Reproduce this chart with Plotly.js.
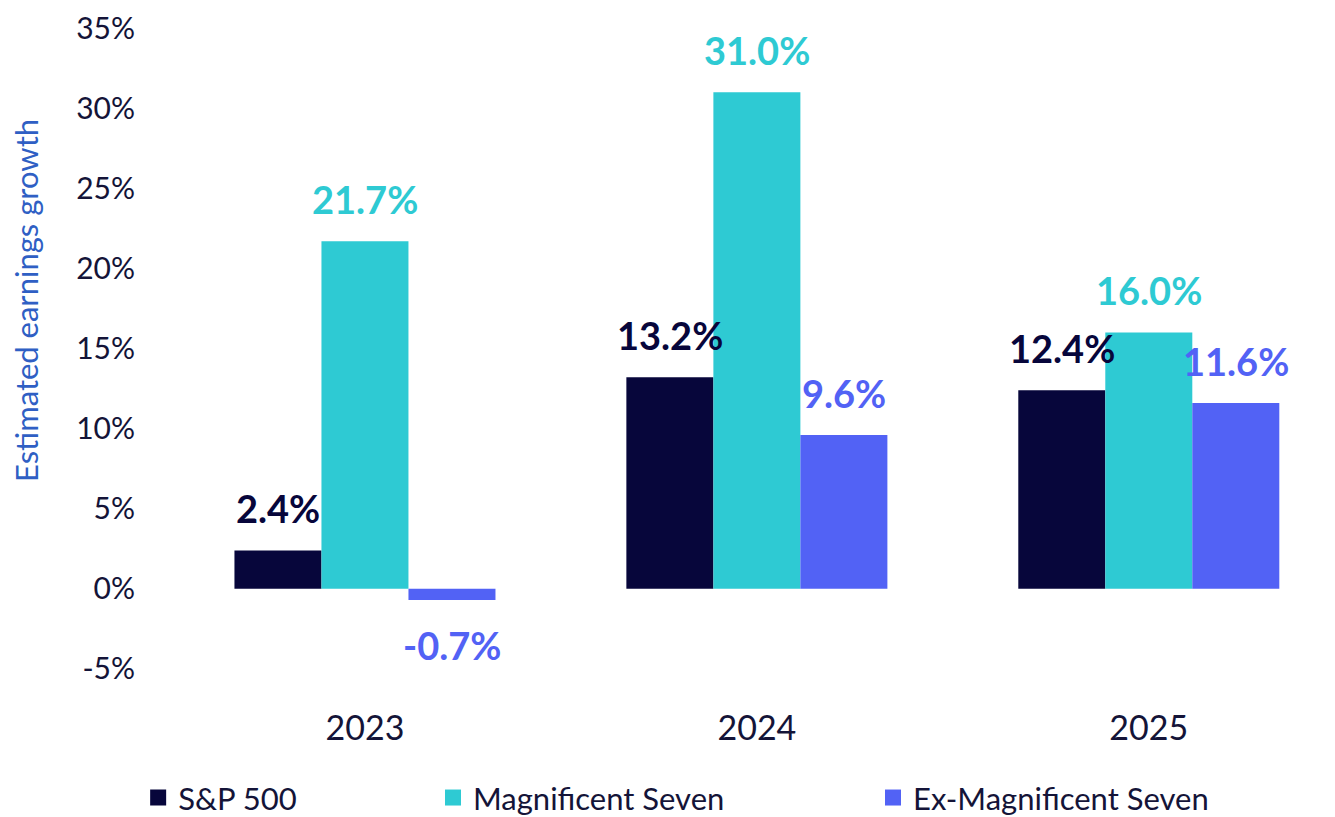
<!DOCTYPE html>
<html>
<head>
<meta charset="utf-8">
<script src="https://cdn.plot.ly/plotly-3.0.1.min.js"></script>
<style>html,body{margin:0;padding:0;background:#fff;}#chart{width:1335px;height:817px;}</style>
</head>
<body>
<div id="chart"></div>
<script>
const years = ['2023', '2024', '2025'];
const seriesNames = ['S&P 500', 'Magnificent Seven', 'Ex-Magnificent Seven'];
const sp500 = [2.4, 13.2, 12.4];
const mag7 = [21.7, 31.0, 16.0];
const exMag7 = [-0.7, 9.6, 11.6];
const yTicks = [-5, 0, 5, 10, 15, 20, 25, 30, 35];
const yAxisTitle = 'Estimated earnings growth';

const colors = ['#07063b', '#2ecad3', '#5262f5'];
const allSeries = [sp500, mag7, exMag7];
const FONT = 'Lato, "Open Sans", sans-serif';
const legendNames = ['legend', 'legend2', 'legend3'];

const traces = [];
allSeries.forEach((vals, j) => {
  traces.push({
    type: 'bar', x: years, y: vals, name: seriesNames[j],
    marker: {color: colors[j], line: {width: 0}},
    showlegend: false, legendgroup: 'g' + j, hoverinfo: 'x+y'
  });
});
allSeries.forEach((vals, j) => {
  traces.push({
    type: 'scatter', mode: 'markers', x: [years[0]], y: [null], name: seriesNames[j],
    marker: {symbol: 'square', size: 22, color: colors[j]},
    showlegend: true, legendgroup: 'g' + j, legend: legendNames[j], hoverinfo: 'skip'
  });
});

const annotations = [];
const barPx = 87;
allSeries.forEach((vals, j) => {
  vals.forEach((v, i) => {
    annotations.push({
      x: i, y: v, xref: 'x', yref: 'y',
      text: v.toFixed(1) + '%', showarrow: false,
      xshift: (j - 1) * barPx, yshift: v >= 0 ? 42 : -45,
      xanchor: 'center', yanchor: 'middle',
      font: {family: FONT, size: 38, weight: 'bold', color: colors[j]}
    });
  });
});
annotations.push({
  xref: 'paper', yref: 'paper', x: -0.1228, y: 0.574,
  text: yAxisTitle, textangle: -90, showarrow: false,
  xanchor: 'center', yanchor: 'middle',
  font: {family: FONT, size: 31, color: '#2f5fc4'}
});

const legendBase = {
  orientation: 'h', xanchor: 'left', yanchor: 'middle', y: -0.139,
  bgcolor: 'rgba(0,0,0,0)', borderwidth: 0,
  font: {family: FONT, size: 31, color: '#141438'}
};

const layout = {
  width: 1335, height: 817,
  margin: {l: 169, r: 2, t: 4, b: 116, autoexpand: false},
  paper_bgcolor: '#ffffff', plot_bgcolor: '#ffffff',
  font: {family: FONT, color: '#141438'},
  barmode: 'group', bargap: 0.334, bargroupgap: 0,
  xaxis: {
    type: 'category', range: [-0.5, 2.47],
    showgrid: false, zeroline: false, showline: false, ticks: '',
    tickfont: {family: FONT, size: 34, color: '#141438'},
    ticklabelstandoff: 4, fixedrange: true
  },
  yaxis: {
    range: [-7.0, 36.5], tickvals: yTicks, ticktext: yTicks.map(t => t + '%'),
    showgrid: false, zeroline: false, showline: false, ticks: '',
    tickfont: {family: FONT, size: 30, color: '#141438'},
    ticklabelstandoff: 33, fixedrange: true
  },
  legend: Object.assign({}, legendBase, {x: -0.0265}),
  legend2: Object.assign({}, legendBase, {x: 0.2268}),
  legend3: Object.assign({}, legendBase, {x: 0.6048}),
  annotations: annotations,
  showlegend: true
};

Plotly.newPlot('chart', traces, layout, {displayModeBar: false, staticPlot: true});
</script>
</body>
</html>
